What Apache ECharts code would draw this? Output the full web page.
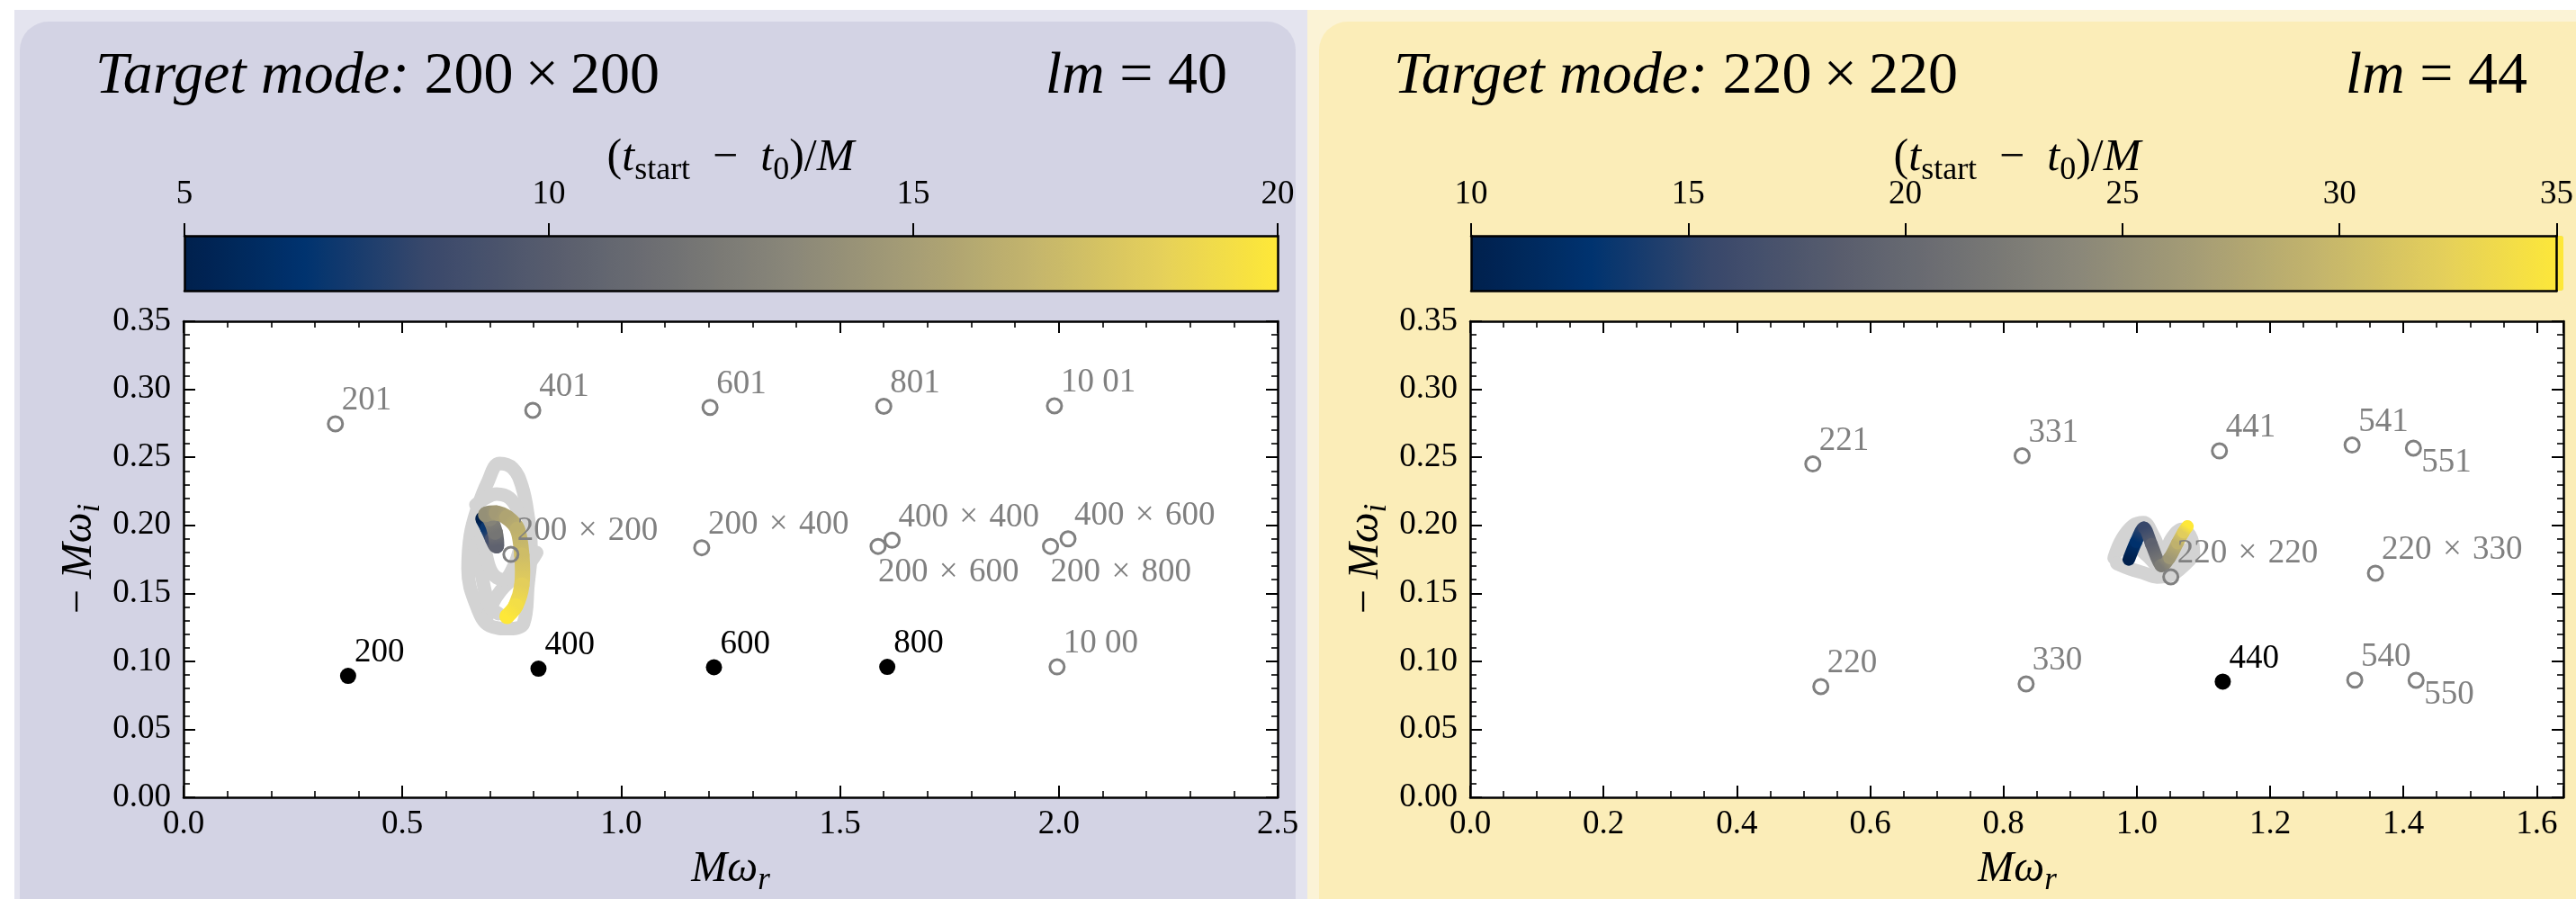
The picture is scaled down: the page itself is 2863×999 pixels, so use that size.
<!DOCTYPE html>
<html><head><meta charset="utf-8">
<script src="https://cdn.jsdelivr.net/npm/echarts@6/dist/echarts.min.js"></script>
<style>html,body{margin:0;padding:0;background:#fff;}#c{width:2863px;height:999px;}</style>
</head><body><div id="c"></div>
<script>
// ---------------- data ----------------
const leftGrayModes = [[0.347,0.2746,'201'],[0.798,0.2845,'401'],[1.203,0.2867,'601'],[1.600,0.2875,'801'],[1.990,0.2878,'10 01'],
  [0.748,0.1786,'200×200'],[1.184,0.1835,'200×400'],[1.587,0.1845,'200×600'],[1.619,0.189,'400×400'],
  [1.981,0.1845,'200×800'],[2.021,0.190,'400×600'],[1.996,0.0959,'10 00']];
const leftBlackModes = [[0.376,0.0893,'200'],[0.811,0.0946,'400'],[1.212,0.0956,'600'],[1.608,0.0959,'800']];
const rightGrayModes = [[0.514,0.2451,'221'],[0.828,0.2511,'331'],[1.124,0.2547,'441'],[1.323,0.2590,'541'],[1.415,0.2567,'551'],
  [1.051,0.1621,'220×220'],[1.358,0.1648,'220×330'],[0.526,0.0814,'220'],[0.834,0.0834,'330'],[1.327,0.0862,'540'],[1.419,0.0860,'550']];
const rightBlackModes = [[1.129,0.0851,'440']];
const labelsBelow = ['200×600','200×800'];
const labelsBelowRight = ['551','550'];

// fitted-frequency trajectories: [Mω_r, -Mω_i, (t_start - t0)/M]
const leftPath = [[0.684,0.2047,5],[0.695,0.198,7],[0.706,0.190,9],[0.715,0.185,10.5],[0.712,0.195,12],[0.700,0.205,13],
  [0.691,0.208,14],[0.715,0.209,14.8],[0.739,0.2058,15.5],[0.763,0.197,16.3],[0.773,0.178,17.2],[0.773,0.156,18.3],
  [0.759,0.1408,19.3],[0.739,0.133,20]];
const rightPath = [[0.988,0.1749,10],[0.999,0.188,12.5],[1.011,0.1981,15.5],[1.022,0.186,19],[1.036,0.1705,22.5],
  [1.049,0.176,26],[1.061,0.187,29],[1.070,0.195,32],[1.076,0.1992,35]];
// light-grey background trajectories (other fits)
const leftGrayTraj = [
  [[0.670,0.211],[0.694,0.231],[0.722,0.2455],[0.752,0.242],[0.773,0.229],[0.787,0.207],[0.794,0.183],[0.787,0.156],[0.777,0.128],[0.745,0.124],[0.700,0.126],[0.668,0.142],[0.650,0.168],[0.655,0.192],[0.670,0.211]],
  [[0.691,0.130],[0.705,0.142],[0.725,0.152],[0.750,0.160],[0.770,0.165],[0.795,0.174],[0.807,0.180]],
  [[0.668,0.215],[0.690,0.220],[0.715,0.223],[0.745,0.220],[0.765,0.210]],
  [[0.665,0.185],[0.680,0.165],[0.690,0.150],[0.700,0.140],[0.720,0.135]],
  [[0.675,0.200],[0.690,0.180],[0.705,0.165],[0.730,0.160],[0.755,0.170],[0.770,0.185]]
];
const rightGrayTraj = [
  [[0.966,0.176],[0.978,0.190],[0.995,0.200],[1.010,0.202],[1.025,0.192],[1.040,0.178],[1.052,0.190],[1.068,0.197],[1.082,0.190],[1.085,0.178]],
  [[0.970,0.172],[0.990,0.168],[1.010,0.165],[1.030,0.162],[1.050,0.163],[1.065,0.168],[1.080,0.175]],
  [[0.975,0.182],[0.995,0.185],[1.015,0.178],[1.035,0.170],[1.055,0.175],[1.070,0.182]]
];
const leftTitle = ['Target mode:', '200×200', 'lm', '= 40'];
const rightTitle = ['Target mode:', '220×220', 'lm', '= 44'];
const leftCbar = [5, 20], rightCbar = [10, 35];
const leftX = [0, 2.5, 0.5], rightX = [0, 1.64, 0.2], yRange = [0, 0.35, 0.05];

// ---------------- style ----------------
const FONT = "'Liberation Serif', 'DejaVu Serif', serif";
const spaced = (s, sp) => s.replace('×', sp + '×' + sp);
const cividis = ['#00204d','#00336f','#39486b','#575c6d','#707173','#8a8779','#a69d75','#c4b56c','#e4cf5b','#fee838'];
function hex2rgb(h){return [parseInt(h.substr(1,2),16),parseInt(h.substr(3,2),16),parseInt(h.substr(5,2),16)];}
function cmap(f){
  f = Math.max(0, Math.min(1, f));
  const n = cividis.length - 1, i = Math.min(n - 1, Math.floor(f * n)), r = f * n - i;
  const a = hex2rgb(cividis[i]), b = hex2rgb(cividis[i + 1]);
  return 'rgb(' + a.map((v, k) => Math.round(v + (b[k] - v) * r)).join(',') + ')';
}
function rich(size){
  const sub = Math.round(size * 0.72), pad = Math.round(size * 0.55);
  return {
    n:{fontFamily:FONT,fontSize:size,color:'#000',verticalAlign:'middle'},
    i:{fontFamily:FONT,fontSize:size,fontStyle:'italic',color:'#000',verticalAlign:'middle'},
    si:{fontFamily:FONT,fontSize:sub,fontStyle:'italic',color:'#000',padding:[pad,0,0,0],verticalAlign:'middle'},
    s:{fontFamily:FONT,fontSize:sub,color:'#000',padding:[pad,0,0,0],verticalAlign:'middle'}
  };
}
const TICK = 37, LABEL = 48, TITLE = 66;

function mainX(grid, r, minorSplit, top){
  return {type:'value', gridIndex:grid, min:r[0], max:r[1], interval:r[2], position: top ? 'top' : 'bottom',
    axisLine:{show:true, onZero:false, lineStyle:{color:'#000', width:2.5}},
    axisTick:{show:true, inside:true, length:13, lineStyle:{color:'#000', width:2}},
    minorTick:{show:true, splitNumber:minorSplit, length:7, lineStyle:{color:'#000', width:1.6}},
    splitLine:{show:false}, minorSplitLine:{show:false},
    axisLabel:{show:!top, margin:12, fontFamily:FONT, fontSize:TICK, color:'#000',
      formatter: v => (Math.abs(v / r[2] - Math.round(v / r[2])) < 1e-6) ? v.toFixed(1) : ''},
    z:5
  };
}
function mainY(grid, right){
  return {type:'value', gridIndex:grid, min:yRange[0], max:yRange[1], interval:yRange[2], position: right ? 'right' : 'left',
    axisLine:{show:true, onZero:false, lineStyle:{color:'#000', width:2.5}},
    axisTick:{show:true, inside:true, length:13, lineStyle:{color:'#000', width:2}},
    minorTick:{show:true, splitNumber:5, length:7, lineStyle:{color:'#000', width:1.6}},
    splitLine:{show:false}, minorSplitLine:{show:false},
    axisLabel:{show:!right, margin:14, fontFamily:FONT, fontSize:TICK, color:'#000', formatter: v => v.toFixed(2)},
    z:5
  };
}
function cbarX(grid, r, top){
  return {type:'value', gridIndex:grid, min:r[0], max:r[1], interval:5, position: top ? 'top' : 'bottom',
    axisLine:{show:true, onZero:false, lineStyle:{color:'#000', width:2.5}},
    axisTick:{show:top, inside:false, length:14, lineStyle:{color:'#000', width:2}},
    splitLine:{show:false},
    axisLabel:{show:top, margin:27, fontFamily:FONT, fontSize:TICK, color:'#000'},
    z:6
  };
}
function cbarY(grid, right){
  return {type:'value', gridIndex:grid, min:0, max:1, position: right ? 'right' : 'left',
    axisLine:{show:true, onZero:false, lineStyle:{color:'#000', width:2.5}},
    axisTick:{show:false}, axisLabel:{show:false}, splitLine:{show:false}, z:6};
}

function grayLine(p, ax){
  return {type:'line', xAxisIndex:ax, yAxisIndex:ax, data:p, smooth:0.4, symbol:'none', silent:true,
    lineStyle:{color:'#d3d3d3', width:15, cap:'round', join:'round', opacity:1}, z:1, animation:false};
}
function pathSeries(arr, tr, ax, width){
  return {type:'custom', xAxisIndex:ax, yAxisIndex:ax, data:arr, encode:{x:0, y:1}, z:2, silent:true,
    renderItem: function(params, api){
      const i = params.dataIndex;
      if (i >= arr.length - 1) return null;
      const P = k => api.coord([arr[k][0], arr[k][1]]);
      const p0 = P(Math.max(0, i - 1)), p1 = P(i), p2 = P(i + 1), p3 = P(Math.min(arr.length - 1, i + 2));
      const c1x = p1[0] + (p2[0] - p0[0]) / 6, c1y = p1[1] + (p2[1] - p0[1]) / 6;
      const c2x = p2[0] - (p3[0] - p1[0]) / 6, c2y = p2[1] - (p3[1] - p1[1]) / 6;
      const col1 = cmap((arr[i][2] - tr[0]) / (tr[1] - tr[0])), col2 = cmap((arr[i + 1][2] - tr[0]) / (tr[1] - tr[0]));
      return {type:'bezierCurve',
        shape:{x1:p1[0], y1:p1[1], x2:p2[0], y2:p2[1], cpx1:c1x, cpy1:c1y, cpx2:c2x, cpy2:c2y},
        style:{fill:null, lineWidth:width, lineCap:'round', opacity:1,
          stroke:{type:'linear', x:p1[0], y:p1[1], x2:p2[0] + 0.01, y2:p2[1] + 0.01, global:true,
            colorStops:[{offset:0, color:col1}, {offset:1, color:col2}]}}};
    }};
}
function labelFor(name, color){
  let o = {show:true, formatter:spaced(name, '\u2004'), position:'inside', fontFamily:FONT, fontSize:TICK, color:color, opacity:1,
    align:'left', verticalAlign:'bottom', offset:[7, -7]};
  if (labelsBelow.indexOf(name) >= 0) { o.verticalAlign = 'top'; o.offset = [0, 11]; }
  if (labelsBelowRight.indexOf(name) >= 0) { o.verticalAlign = 'top'; o.offset = [9, -2]; }
  return o;
}
function modeSeries(arr, ax, black){
  const col = black ? '#000' : '#808080';
  return {type:'scatter', xAxisIndex:ax, yAxisIndex:ax, z:4, silent:true,
    symbol:'circle', symbolSize: black ? 18 : 16,
    itemStyle: black ? {color:'#000', opacity:1} : {color:'rgba(255,255,255,0)', borderColor:'#808080', borderWidth:3, opacity:1},
    data: arr.map(d => ({value:[d[0], d[1]], label:labelFor(d[2], col)}))};
}

const series = [];
leftGrayTraj.forEach(p => series.push(grayLine(p, 0)));
const leftPathIdx = series.length; series.push(pathSeries(leftPath, leftCbar, 0, 17));
series.push(modeSeries(leftGrayModes, 0, false));
series.push(modeSeries(leftBlackModes, 0, true));
rightGrayTraj.forEach(p => series.push(grayLine(p, 2)));
const rightPathIdx = series.length; series.push(pathSeries(rightPath, rightCbar, 2, 14));
series.push(modeSeries(rightGrayModes, 2, false));
series.push(modeSeries(rightBlackModes, 2, true));

function titleText(t, x, align){
  return {type:'text', x:x, y:86, z:-50, silent:true,
    style:{text: align === 'left' ? '{i|' + t[0] + '}{n| ' + spaced(t[1], '\u2009') + '}' : '{i|' + t[2] + '}{n| ' + t[3] + '}',
      align:align, verticalAlign:'middle', rich:rich(TITLE), fontFamily:FONT, fontSize:TITLE}};
}
function mathText(txt, x, y, size, rot){
  return {type:'text', x:x, y:y, rotation:rot || 0, z:-50, silent:true,
    style:{text:txt, align:'center', verticalAlign:'middle', rich:rich(size), fontFamily:FONT, fontSize:size}};
}
const xName = '{i|Mω}{si|r}';
const yName = '{n|− }{i|Mω}{si|i}';
const cName = '{n|(}{i|t}{s|start}{n|\u2002−\u2002}{i|t}{s|0}{n|)/}{i|M}';

const option = {
  animation:false,
  backgroundColor:'#fff',
  graphic:{elements:[
    {type:'rect', z:-100, silent:true, shape:{x:16, y:11, width:1437, height:1000}, style:{fill:'#e4e4ef'}},
    {type:'rect', z:-100, silent:true, shape:{x:1453, y:11, width:1420, height:1000}, style:{fill:'#fbf3d6'}},
    {type:'rect', z:-99, silent:true, shape:{x:22, y:24, width:1418, height:1100, r:32}, style:{fill:'#d3d3e4'}},
    {type:'rect', z:-99, silent:true, shape:{x:1466, y:24, width:1450, height:1100, r:32}, style:{fill:'#fbedb8'}},
    titleText(leftTitle, 106, 'left'), titleText(leftTitle, 1364, 'right'),
    titleText(rightTitle, 1549, 'left'), titleText(rightTitle, 2809, 'right'),
    mathText(xName, 812, 966, LABEL), mathText(xName, 2242, 966, LABEL),
    mathText(yName, 88, 621, LABEL, Math.PI / 2), mathText(yName, 1518, 621, LABEL, Math.PI / 2),
    mathText(cName, 812, 176, 50), mathText(cName, 2242, 176, 50)
  ]},
  grid:[
    {left:204, top:357, width:1216, height:529, show:true, backgroundColor:'#fff', borderWidth:0},
    {left:1634, top:357, width:1215, height:529, show:true, backgroundColor:'#fff', borderWidth:0},
    {left:205, top:262, width:1215, height:61},
    {left:1635, top:262, width:1214, height:61}
  ],
  xAxis:[mainX(0, leftX, 5, false), mainX(0, leftX, 5, true), mainX(1, rightX, 4, false), mainX(1, rightX, 4, true),
    cbarX(2, leftCbar, true), cbarX(2, leftCbar, false), cbarX(3, rightCbar, true), cbarX(3, rightCbar, false)],
  yAxis:[mainY(0, false), mainY(0, true), mainY(1, false), mainY(1, true),
    cbarY(2, false), cbarY(2, true), cbarY(3, false), cbarY(3, true)],
  visualMap:[
    {type:'continuous', min:leftCbar[0], max:leftCbar[1], dimension:2, seriesIndex:leftPathIdx, orient:'horizontal',
      left:205, top:262, itemWidth:61, itemHeight:1215, text:null, calculable:false, hoverLink:false, padding:0, z:1,
      inRange:{color:cividis}},
    {type:'continuous', min:rightCbar[0], max:rightCbar[1], dimension:2, seriesIndex:rightPathIdx, orient:'horizontal',
      left:1635, top:262, itemWidth:61, itemHeight:1214, text:null, calculable:false, hoverLink:false, padding:0, z:1,
      inRange:{color:cividis}}
  ],
  series:series
};
const chart = echarts.init(document.getElementById('c'), null, {renderer:'canvas'});
chart.setOption(option);
</script></body></html>
